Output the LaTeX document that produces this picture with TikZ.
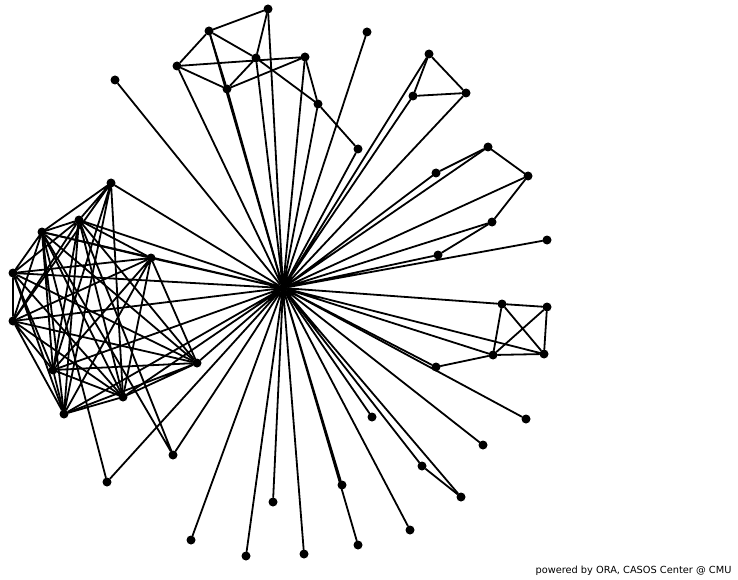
\documentclass[tikz,border=0pt]{standalone}
\usepackage{fontspec}
\newfontfamily\orafont{DejaVu Sans}

\begin{document}
\begin{tikzpicture}[
        x=1pt, y=-1pt,
        dot/.style={circle, fill=black, inner sep=0pt, minimum size=9pt},
        edge/.style={line width=1.8pt, line cap=round},
        credit/.style={anchor=east, font=\orafont\fontsize{9.8}{11}\selectfont}
    ]
        \useasboundingbox (0,0) rectangle (738,580);

        % Ego
        \node (hub) [dot] at (283,288) {};

        % Nhom tren
        \node (ta) [dot] at (209,31) {};
        \node (tb) [dot] at (268,9) {};
        \node (tc) [dot] at (177,66) {};
        \node (td) [dot] at (256,58) {};
        \node (te) [dot] at (305,57) {};
        \node (tf) [dot] at (227,89) {};
        \node (tg) [dot] at (318,104) {};
        \node (th) [dot] at (358,149) {};
        \node (ti) [dot] at (367,32) {};
        \node (tl) [dot] at (115,80) {};

        % Nhom phai tren
        \node (ra) [dot] at (429,54) {};
        \node (rb) [dot] at (413,96) {};
        \node (rc) [dot] at (466,93) {};
        \node (rd) [dot] at (488,147) {};
        \node (re) [dot] at (436,173) {};
        \node (rf) [dot] at (528,176) {};
        \node (rg) [dot] at (492,222) {};
        \node (rh) [dot] at (438,255) {};
        \node (ri) [dot] at (547,240) {};

        % Hop ben phai
        \node (sa) [dot] at (502,304) {};
        \node (sb) [dot] at (547,307) {};
        \node (sc) [dot] at (493,355) {};
        \node (sd) [dot] at (544,354) {};
        \node (se) [dot] at (436,367) {};

        % Nhom duoi
        \node (ba) [dot] at (526,419) {};
        \node (bb) [dot] at (483,445) {};
        \node (bc) [dot] at (461,497) {};
        \node (bd) [dot] at (422,466) {};
        \node (be) [dot] at (410,530) {};
        \node (bf) [dot] at (372,417) {};
        \node (bg) [dot] at (358,545) {};
        \node (bh) [dot] at (342,485) {};
        \node (bi) [dot] at (304,554) {};
        \node (bj) [dot] at (273,502) {};
        \node (bk) [dot] at (246,556) {};
        \node (bl) [dot] at (191,540) {};
        \node (bm) [dot] at (173,455) {};

        % Cum ben trai
        \node (la) [dot] at (111,183) {};
        \node (lb) [dot] at (79,220) {};
        \node (lc) [dot] at (42,232) {};
        \node (ld) [dot] at (151,258) {};
        \node (le) [dot] at (13,273) {};
        \node (lf) [dot] at (13,321) {};
        \node (lg) [dot] at (197,363) {};
        \node (lh) [dot] at (53,370) {};
        \node (li) [dot] at (123,397) {};
        \node (lj) [dot] at (64,414) {};
        \node (lk) [dot] at (107,482) {};

        % Cac canh toi ego
        \draw [edge] (hub) -- (ta) (hub) -- (tb) (hub) -- (tc) (hub) -- (td) (hub) -- (te);
        \draw [edge] (hub) -- (tf) (hub) -- (tg) (hub) -- (th) (hub) -- (ti) (hub) -- (tl);
        \draw [edge] (hub) -- (ra) (hub) -- (rb) (hub) -- (rc) (hub) -- (rd) (hub) -- (re);
        \draw [edge] (hub) -- (rf) (hub) -- (rg) (hub) -- (rh) (hub) -- (ri);
        \draw [edge] (hub) -- (sa) (hub) -- (sd) (hub) -- (sc) (hub) -- (se);
        \draw [edge] (hub) -- (ba) (hub) -- (bb) (hub) -- (bc) (hub) -- (bd) (hub) -- (be);
        \draw [edge] (hub) -- (bf) (hub) -- (bg) (hub) -- (bh) (hub) -- (bi) (hub) -- (bj);
        \draw [edge] (hub) -- (bk) (hub) -- (bl) (hub) -- (bm);
        \draw [edge] (hub) -- (la) (hub) -- (lb) (hub) -- (lc) (hub) -- (ld) (hub) -- (le);
        \draw [edge] (hub) -- (lf) (hub) -- (lg) (hub) -- (lh) (hub) -- (li) (hub) -- (lj) (hub) -- (lk);

        % Canh trong nhom tren
        \draw [edge] (ta) -- (tb) (ta) -- (tc) (ta) -- (td) (ta) -- (tf);
        \draw [edge] (tb) -- (td) (tc) -- (te) (tc) -- (tf) (tf) -- (td) (tf) -- (te);
        \draw [edge] (td) -- (tg) (te) -- (tg) (tg) -- (th);

        % Canh trong nhom phai
        \draw [edge] (ra) -- (rb) (ra) -- (rc) (rb) -- (rc);
        \draw [edge] (re) -- (rd) (rd) -- (rf) (rf) -- (rg) (rg) -- (rh);
        \draw [edge] (sa) -- (sb) (sa) -- (sc) (sa) -- (sd) (sb) -- (sc) (sb) -- (sd) (sc) -- (sd) (sc) -- (se);
        \draw [edge] (bd) -- (bc);

        % Canh trong cum trai
        \draw [edge] (la) -- (lb) (la) -- (lc) (la) -- (li) (la) -- (lh) (la) -- (lf) (la) -- (lj);
        \draw [edge] (lb) -- (lc) (lb) -- (ld) (lb) -- (le) (lb) -- (lf) (lb) -- (lh) (lb) -- (li) (lb) -- (lj) (lb) -- (lg);
        \draw [edge] (lc) -- (ld) (lc) -- (le) (lc) -- (lf) (lc) -- (lh) (lc) -- (li) (lc) -- (lg) (lc) -- (lk) (lc) -- (lj);
        \draw [edge] (ld) -- (le) (ld) -- (lf) (ld) -- (lh) (ld) -- (li) (ld) -- (lj) (ld) -- (lg);
        \draw [edge] (le) -- (lf) (le) -- (lh) (le) -- (li) (le) -- (lg) (le) -- (lj);
        \draw [edge] (lf) -- (lh) (lf) -- (li) (lf) -- (lg) (lf) -- (lj);
        \draw [edge] (lg) -- (lh) (lg) -- (li) (lg) -- (lj);
        \draw [edge] (lh) -- (li) (lh) -- (lj) (li) -- (lj);
        \draw [edge] (bm) -- (lb) (bm) -- (lc);

        % Chu thich
        \node (credit) [credit] at (735,571) {powered by ORA, CASOS Center @ CMU};
    \end{tikzpicture}
\end{document}
